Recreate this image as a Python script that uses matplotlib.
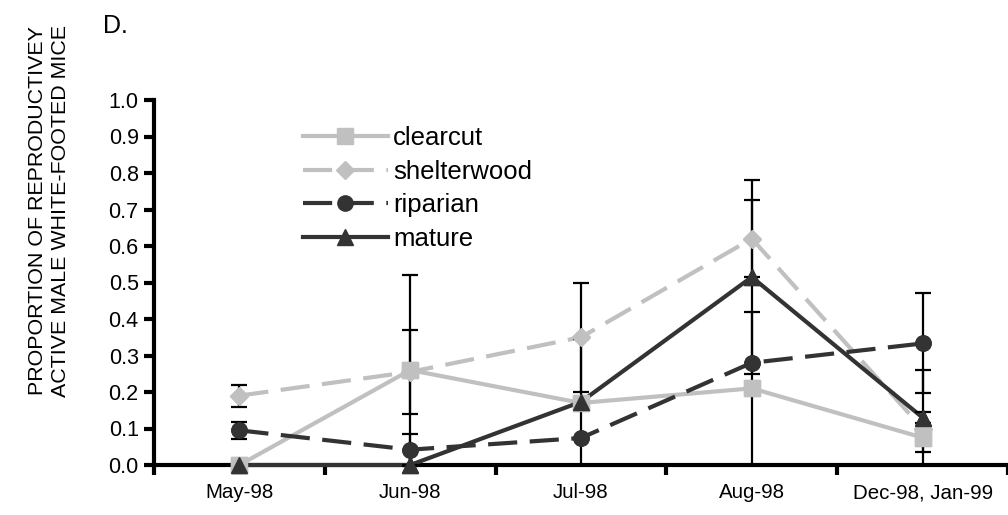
import numpy as np
import matplotlib
matplotlib.use("Agg")
import matplotlib.pyplot as plt

plt.rcParams['font.family'] = ['Liberation Sans', 'DejaVu Sans']

categories = ['May-98', 'Jun-98', 'Jul-98', 'Aug-98', 'Dec-98, Jan-99']
clearcut = [0.0, 0.26, 0.17, 0.21, 0.075]
clearcut_err = [0.0, 0.26, 0.0, 0.21, 0.04]
shelterwood = [0.19, 0.255, 0.35, 0.62, 0.10]
shelterwood_err = [0.03, 0.115, 0.15, 0.105, 0.045]
riparian = [0.095, 0.042, 0.074, 0.28, 0.333]
riparian_err = [0.023, 0.044, 0.0, 0.0, 0.137]
mature = [0.0, 0.0, 0.173, 0.515, 0.13]
mature_err = [0.0, 0.0, 0.173, 0.265, 0.13]
yticks = [0.0, 0.1, 0.2, 0.3, 0.4, 0.5, 0.6, 0.7, 0.8, 0.9, 1.0]

W, H = 1008, 515
fig = plt.figure(figsize=(W / 100, H / 100), dpi=100)
ax = fig.add_axes([154 / W, 50 / H, (W - 154) / W, 365 / H])

x = np.arange(len(categories))
light = '#C0C0C0'
dark = '#333333'

series = [
    ('clearcut', clearcut, clearcut_err, light, 's', 11, (None, None)),
    ('shelterwood', shelterwood, shelterwood_err, light, 'D', 9, (0, (7, 3))),
    ('riparian', riparian, riparian_err, dark, 'o', 11, (0, (7, 3))),
    ('mature', mature, mature_err, dark, '^', 11, (None, None)),
]

for name, vals, errs, col, mk, ms, dash in series:
    ls = '-' if dash[0] is None else dash
    ax.plot(x, vals, color=col, lw=3, ls=ls, marker=mk, ms=ms,
            mfc=col, mec=col, label=name, zorder=2, clip_on=False)
    idx = [i for i, e in enumerate(errs) if e > 0]
    ax.errorbar(x[idx], np.array(vals)[idx], yerr=np.array(errs)[idx], fmt='none',
                ecolor='black', elinewidth=1.6, capsize=5.5, capthick=1.6, zorder=3,
                clip_on=False)
    ax.plot(x, vals, ls='none', marker=mk, ms=ms, mfc=col, mec=col, zorder=4,
            clip_on=False)

ax.set_xlim(-0.5, 4 + (W - 926.7) / 171.5)
ax.set_ylim(0, 1.0)

for s in ['top', 'right']:
    ax.spines[s].set_visible(False)
for s in ['left', 'bottom']:
    ax.spines[s].set_linewidth(3)
    ax.spines[s].set_zorder(1)

ax.set_yticks(yticks)
ax.set_yticklabels([f'{v:.1f}' for v in yticks])
ax.tick_params(axis='y', direction='out', length=7, width=3, pad=4, labelsize=15.5)

ax.set_xticks(np.arange(-0.5, 4.6, 1.0))
ax.set_xticklabels([])
ax.tick_params(axis='x', which='major', direction='out', length=7, width=3)
ax.set_xticks(x, minor=True)
ax.set_xticklabels(categories, minor=True)
ax.tick_params(axis='x', which='minor', length=0, pad=13, labelsize=14.8)

leg = ax.legend(loc='upper left', bbox_to_anchor=(303 / W, 1 - 126 / H),
                bbox_transform=fig.transFigure, frameon=False, fontsize=18.5,
                handlelength=3.3, handletextpad=0.2, borderpad=0,
                borderaxespad=0, labelspacing=0.37)

fig.text(49 / W, 1 - 211 / H,
         'PROPORTION OF REPRODUCTIVEY\nACTIVE MALE WHITE-FOOTED MICE',
         rotation=90, ha='center', va='center', fontsize=15.4,
         linespacing=1.28, multialignment='center')

fig.text(103 / W, 1 - 33 / H, 'D.', ha='left', va='baseline', fontsize=18)

fig.savefig('out.png', dpi=100)
